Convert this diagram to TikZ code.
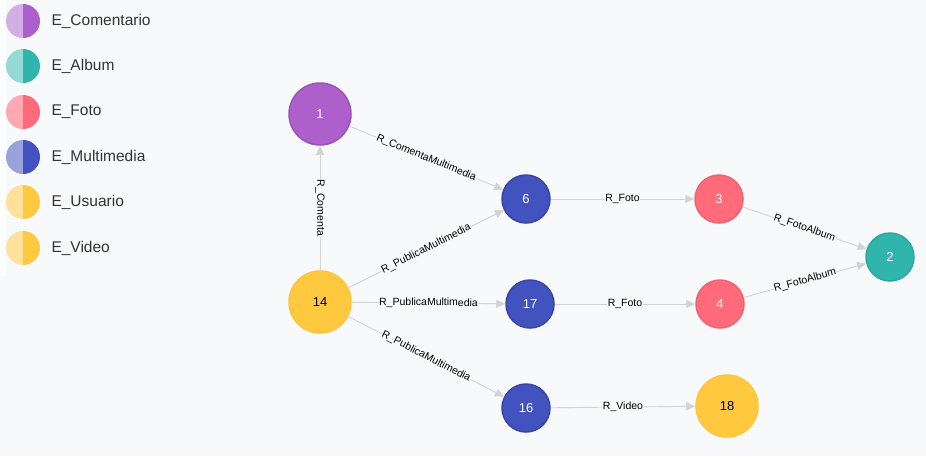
\documentclass[tikz,border=0pt]{standalone}
\usepackage{fontspec}
\setmainfont{Liberation Sans}
\usetikzlibrary{arrows.meta}

\definecolor{bgcol}{HTML}{F8F9FB}
\definecolor{edgecol}{HTML}{D3D3D3}
\definecolor{comDark}{HTML}{AD5FCC}
\definecolor{comLight}{HTML}{D4AEE6}
\definecolor{albDark}{HTML}{2FB5AC}
\definecolor{albLight}{HTML}{95D9D5}
\definecolor{fotDark}{HTML}{FF6B7A}
\definecolor{fotLight}{HTML}{FFA8B1}
\definecolor{mulDark}{HTML}{4252BF}
\definecolor{mulLight}{HTML}{9AA2DC}
\definecolor{usuDark}{HTML}{FFC93F}
\definecolor{usuLight}{HTML}{FFE199}

\tikzset{
  ent/.style={circle,draw,line width=1.5pt,text=white,font=\fontsize{13}{15}\selectfont,inner sep=0pt},
  comentario/.style={ent,fill=comDark,draw=comDark!88!black,minimum size=62pt},
  album/.style={ent,fill=albDark,draw=albDark!92!black,minimum size=48pt},
  foto/.style={ent,fill=fotDark,draw=fotDark!93!black,minimum size=48pt},
  multimedia/.style={ent,fill=mulDark,draw=mulDark!85!black,minimum size=48pt},
  usuario/.style={ent,fill=usuDark,draw=usuDark!93!orange,text=black,minimum size=62pt},
  rel/.style={draw=edgecol,line width=0.9pt,-{Triangle[length=9pt,width=8pt]}},
  lbl/.style={fill=bgcol,inner sep=0.5pt,font=\fontsize{10.5}{12}\selectfont,text=black}
}

\begin{document}
\begin{tikzpicture}[x=1pt,y=1pt]
    \fill[bgcol] (0,0) rectangle (926,-456);
    \useasboundingbox (0,0) rectangle (926,-456);
    \fill[white!60!bgcol] (0,0) rectangle (6,-276);
    % legend
    \foreach \y/\lt/\dk/\key/\name in {21/comLight/comDark/com/E\_Comentario,
                                  66/albLight/albDark/alb/E\_Album,
                                  112/fotLight/fotDark/fot/E\_Foto,
                                  157/mulLight/mulDark/mul/E\_Multimedia,
                                  202/usuLight/usuDark/usu/E\_Usuario,
                                  248/usuLight/usuDark/vid/E\_Video} {
      \fill[\lt] (23,-\y) ++(0,17) arc[start angle=90,end angle=270,radius=17] -- cycle;
      \fill[\dk] (23,-\y) ++(0,-17) arc[start angle=-90,end angle=90,radius=17] -- cycle;
      \node[anchor=west,font=\fontsize{15.5}{18}\selectfont,text=black!80] (leg-\key) at (48,-\y) {\name};
    }
    % nodes
    \node[comentario] (n1) at (320,-114) {1};
    \node[usuario] (n14) at (320,-302) {14};
    \node[multimedia] (n6) at (526,-199) {6};
    \node[multimedia] (n17) at (530,-304) {17};
    \node[multimedia] (n16) at (526,-408) {16};
    \node[foto] (n3) at (719,-199) {3};
    \node[foto] (n4) at (720,-304) {4};
    \node[album] (n2) at (890,-257) {2};
    \node[usuario] (n18) at (727,-406) {18};
    % relations
    \draw[rel] (n14) -- node[lbl,rotate=-90] {R\_Comenta} (n1);
    \draw[rel] (n1) -- node[lbl,sloped] {R\_ComentaMultimedia} (n6);
    \draw[rel] (n14) -- node[lbl,sloped] {R\_PublicaMultimedia} (n6);
    \draw[rel] (n14) -- node[lbl,sloped] {R\_PublicaMultimedia} (n17);
    \draw[rel] (n14) -- node[lbl,sloped] {R\_PublicaMultimedia} (n16);
    \draw[rel] (n6) -- node[lbl] {R\_Foto} (n3);
    \draw[rel] (n17) -- node[lbl] {R\_Foto} (n4);
    \draw[rel] (n3) -- node[lbl,sloped] {R\_FotoAlbum} (n2);
    \draw[rel] (n4) -- node[lbl,sloped] {R\_FotoAlbum} (n2);
    \draw[rel] (n16) -- node[lbl] {R\_Video} (n18);
\end{tikzpicture}
\end{document}
